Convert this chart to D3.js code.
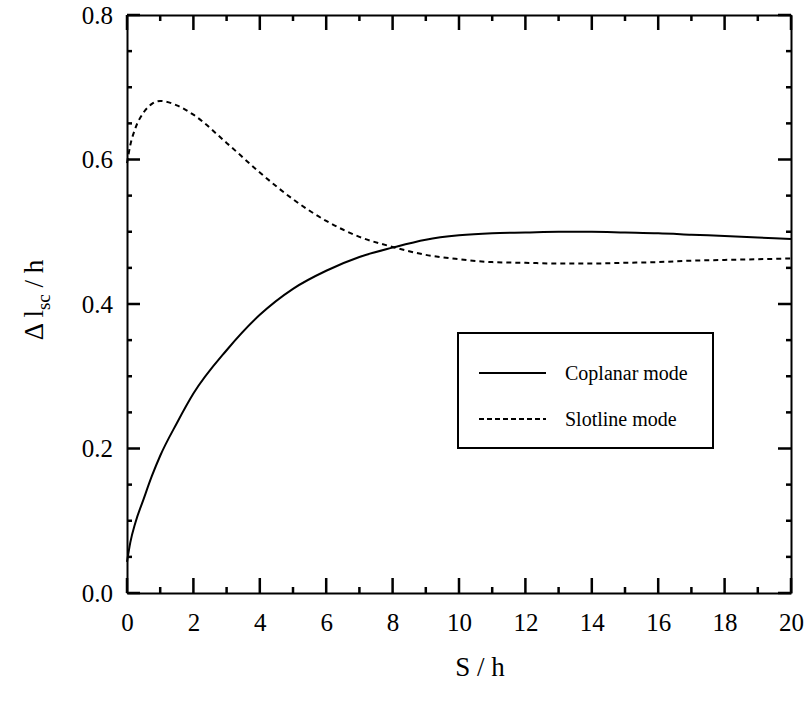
<!DOCTYPE html>
<html>
<head>
<meta charset="utf-8">
<script src="https://cdn.jsdelivr.net/npm/d3@7"></script>
<style>
  body { margin: 0; background: #fff; }
  svg text { font-family: "Liberation Serif", "Times New Roman", serif; fill: #000; }
  .axis path { stroke: #000; stroke-width: 2; }
</style>
</head>
<body>
<svg id="chart" width="806" height="711"></svg>
<script>
// values
const sOverH = [0, 0.1, 0.25, 0.5, 0.75, 1, 1.5, 2, 3, 4, 5, 6, 7, 8, 9, 10, 11, 12, 13, 14, 15, 16, 17, 18, 19, 20];
const coplanar = [0.043, 0.07, 0.097, 0.13, 0.162, 0.19, 0.235, 0.276, 0.336, 0.385, 0.421, 0.446, 0.465, 0.478, 0.489, 0.495, 0.498, 0.499, 0.5, 0.5, 0.499, 0.498, 0.496, 0.494, 0.492, 0.49];
const slotline = [0.595, 0.62, 0.643, 0.665, 0.677, 0.681, 0.675, 0.662, 0.623, 0.582, 0.545, 0.515, 0.493, 0.479, 0.468, 0.462, 0.458, 0.457, 0.456, 0.456, 0.457, 0.458, 0.46, 0.461, 0.462, 0.463];
const xMajor = [0, 2, 4, 6, 8, 10, 12, 14, 16, 18, 20];
const xMinor = [1, 3, 5, 7, 9, 11, 13, 15, 17, 19];
const yMajor = [0, 0.2, 0.4, 0.6, 0.8];
const yMinor = [0.05, 0.1, 0.15, 0.25, 0.3, 0.35, 0.45, 0.5, 0.55, 0.65, 0.7, 0.75];
const legendNames = ["Coplanar mode", "Slotline mode"];

const plotLeft = 127, plotRight = 791, plotTop = 15, plotBottom = 593;
const svg = d3.select('#chart');

const x = d3.scaleLinear().domain([0, 20]).range([plotLeft, plotRight]);
const y = d3.scaleLinear().domain([0, 0.8]).range([plotBottom, plotTop]);

// frame and labels from d3 axes
function addAxis(axis, tx, ty) {
    const g = svg.append('g').attr('class', 'axis')
        .attr('transform', 'translate(' + tx + ',' + ty + ')')
        .call(axis);
    g.selectAll('.tick line').remove();
    g.selectAll('text').style('font-size', '25px');
    return g;
}
addAxis(d3.axisBottom(x).tickValues(xMajor).tickSize(0).tickPadding(20).tickFormat(d3.format('d')), 0, plotBottom);
addAxis(d3.axisTop(x).tickValues([]).tickSize(0), 0, plotTop);
addAxis(d3.axisLeft(y).tickValues(yMajor).tickSize(0).tickPadding(14).tickFormat(d3.format('.1f')), plotLeft, 0);
addAxis(d3.axisRight(y).tickValues([]).tickSize(0), plotRight, 0);

// inward tick marks on all four sides, as filled bars
const ticks = svg.append('g').attr('fill', '#000');
function xTicks(vals, len) {
    ticks.append('g').selectAll('rect').data(vals).join('rect')
        .attr('x', d => x(d) - 1.25).attr('y', plotBottom - len)
        .attr('width', 2.5).attr('height', len);
    ticks.append('g').selectAll('rect').data(vals).join('rect')
        .attr('x', d => x(d) - 1.25).attr('y', plotTop)
        .attr('width', 2.5).attr('height', len);
}
function yTicks(vals, len) {
    ticks.append('g').selectAll('rect').data(vals).join('rect')
        .attr('x', plotLeft).attr('y', d => y(d) - 1.25)
        .attr('width', len).attr('height', 2.5);
    ticks.append('g').selectAll('rect').data(vals).join('rect')
        .attr('x', plotRight - len).attr('y', d => y(d) - 1.25)
        .attr('width', len).attr('height', 2.5);
}
xTicks(xMajor, 15);
xTicks(xMinor, 6);
yTicks(yMajor, 13);
yTicks(yMinor, 5);

const line = d3.line()
    .x(d => x(d[0]))
    .y(d => y(d[1]))
    .curve(d3.curveMonotoneX);

svg.append('path')
    .datum(sOverH.map((s, i) => [s, coplanar[i]]))
    .attr('fill', 'none')
    .attr('stroke', '#000')
    .attr('stroke-width', 2)
    .attr('d', line);

svg.append('path')
    .datum(sOverH.map((s, i) => [s, slotline[i]]))
    .attr('fill', 'none')
    .attr('stroke', '#000')
    .attr('stroke-width', 2)
    .attr('stroke-dasharray', '5,4')
    .attr('d', line);

// axis titles
svg.append('text')
    .attr('x', 480).attr('y', 676)
    .attr('text-anchor', 'middle')
    .style('font-size', '27px')
    .text('S / h');

const yt = svg.append('text')
    .attr('transform', 'translate(43,300) rotate(-90)')
    .attr('text-anchor', 'middle')
    .style('font-size', '27px');
yt.append('tspan').text('\u0394 l');
yt.append('tspan').attr('dy', 7).style('font-size', '19px').text('sc');
yt.append('tspan').attr('dy', -7).text(' / h');

// legend
const legend = svg.append('g');
legend.append('rect')
    .attr('x', 458).attr('y', 333)
    .attr('width', 255).attr('height', 115)
    .attr('fill', '#fff')
    .attr('stroke', '#000')
    .attr('stroke-width', 2);
const legY = [373, 419];
legendNames.forEach((name, i) => {
    legend.append('line')
        .attr('x1', 479).attr('x2', 546)
        .attr('y1', legY[i]).attr('y2', legY[i])
        .attr('stroke', '#000')
        .attr('stroke-width', 2)
        .attr('stroke-dasharray', i === 1 ? '5,3' : null);
    legend.append('text')
        .attr('x', 565).attr('y', legY[i] + 7)
        .style('font-size', '20px')
        .text(name);
});
</script>
</body>
</html>
